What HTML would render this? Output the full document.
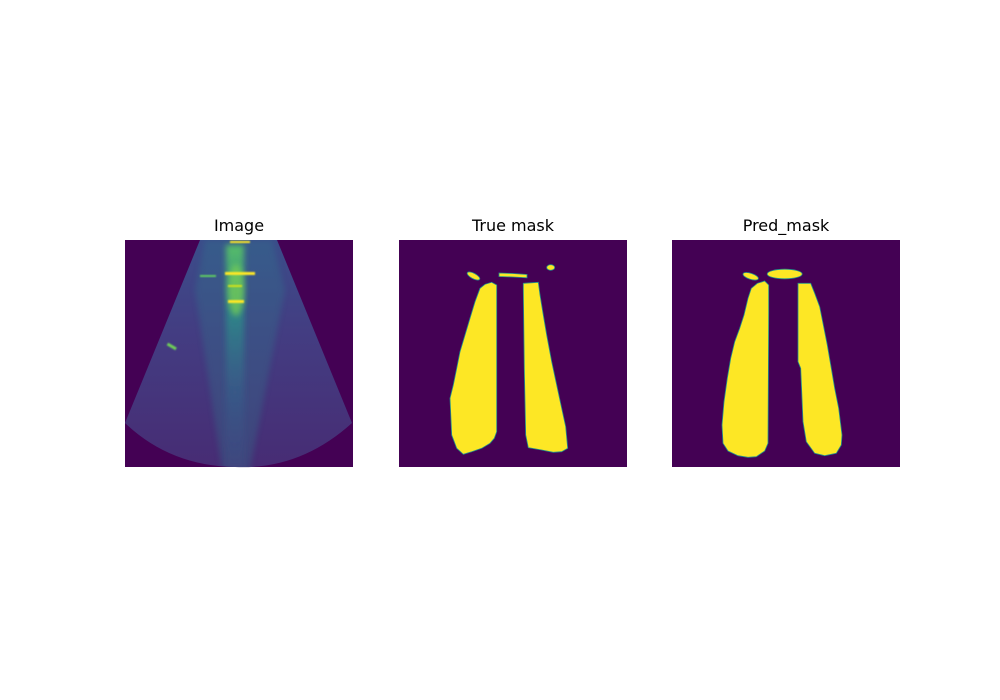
<!DOCTYPE html>
<html><head><meta charset="utf-8"><style>
html,body{margin:0;padding:0;background:#fff;width:1000px;height:700px;overflow:hidden}
svg text{font-family:"DejaVu Sans","Liberation Sans",sans-serif;font-size:16px;fill:#000}
</style></head><body>
<svg width="1000" height="700" viewBox="0 0 1000 700">
<defs>
<linearGradient id="fanG" x1="0" y1="0" x2="0" y2="1">
<stop offset="0" stop-color="#3b4d8a"/><stop offset="0.4" stop-color="#433d82"/><stop offset="1" stop-color="#472c74"/>
</linearGradient>
<linearGradient id="stripG" x1="0" y1="0" x2="0" y2="1">
<stop offset="0" stop-color="#5ac864" stop-opacity="0.9"/><stop offset="0.3" stop-color="#2a9a8a" stop-opacity="0.7"/><stop offset="0.65" stop-color="#31688e" stop-opacity="0.45"/><stop offset="1" stop-color="#3b528b" stop-opacity="0.15"/>
</linearGradient>
<filter id="bl" x="-50%" y="-50%" width="200%" height="200%"><feGaussianBlur stdDeviation="3"/></filter>
<filter id="bl2" x="-50%" y="-50%" width="200%" height="200%"><feGaussianBlur stdDeviation="0.8"/></filter>
<clipPath id="fanClip"><path d="M200,240 L277,240 L352,423 Q300,470 235,467 Q170,466 125,423 Z"/></clipPath>
</defs>

<g>
<text x="239" y="231" text-anchor="middle">Image</text>
<rect x="125" y="240" width="228" height="227" fill="#440154"/>
<path d="M200,240 L277,240 L352,423 Q300,470 235,467 Q170,466 125,423 Z" fill="url(#fanG)"/>
<g clip-path="url(#fanClip)">
<path d="M205,240 L272,240 L285,290 L250,470 L222,470 L195,290 Z" fill="#2f7d8e" opacity="0.3" filter="url(#bl)"/>
<rect x="226" y="245" width="18" height="225" fill="url(#stripG)" filter="url(#bl)"/>
<ellipse cx="236" cy="290" rx="8" ry="26" fill="#7ad151" opacity="0.7" filter="url(#bl)"/>
<rect x="225" y="272" width="30" height="3" fill="#fde725" filter="url(#bl2)"/>
<rect x="228" y="300" width="16" height="3" fill="#fde725" filter="url(#bl2)"/>
<rect x="228" y="285" width="14" height="2" fill="#d0e11c" filter="url(#bl2)"/>
<rect x="230" y="241" width="20" height="2" fill="#fde725" filter="url(#bl2)"/>
<rect x="200" y="275" width="16" height="2" fill="#5ec962" filter="url(#bl2)"/>
<rect x="167" y="345" width="10" height="3" fill="#6ece58" transform="rotate(30 172 346)" filter="url(#bl2)"/>
</g>
</g>

<g>
<text x="513" y="231" text-anchor="middle">True mask</text>
<rect x="399" y="240" width="228" height="227" fill="#440154"/>
<g fill="#fde725" stroke="#21918c" stroke-width="0.8">
<polygon points="491.7,282.3 496.7,285 496.7,431.7 494.3,438.3 490,443.3 481.7,448.3 471.7,451.7 463.3,454.3 456.7,448.3 451.7,435 450,398.3 453.3,385 456.7,368.3 460,351.7 465,335 470,318.3 475,301.7 480,288.3 485,284.3"/>
<polygon points="523.3,283.3 538.3,282.3 540,295 543.3,315 546.7,335 551.7,361.7 556.7,385 561.7,408.3 565.7,426.7 567.7,448.3 561.7,451.7 553.3,452.3 541.7,450 528.3,447.7 525.7,435 524.3,368.3 523.3,288.3"/>
<ellipse cx="473.5" cy="276" rx="7" ry="2.7" transform="rotate(28 473.5 276)"/>
<polygon points="499,273 513,273.5 527,274.5 527,277.8 513,277 499,276.5"/>
<ellipse cx="550.7" cy="267.5" rx="4" ry="2.8"/>
</g>
</g>

<g>
<text x="786" y="231" text-anchor="middle">Pred_mask</text>
<rect x="672" y="240" width="228" height="227" fill="#440154"/>
<g fill="#fde725" stroke="#21918c" stroke-width="0.8">
<polygon points="764.7,281 768.7,285 768.7,311.7 768,443.3 764.7,451 756.3,456.7 748,457.3 738,455.7 728,451 723,443.3 722,425 724,401.7 727.3,378.3 730.7,358.3 734.7,341.7 739.7,328.3 744,315 748,298.3 751.3,288.3 757.3,283.3"/>
<polygon points="798,283.3 810.7,283.3 814.7,293.3 819.7,306.7 823,323.3 827.3,345 831.3,368.3 834.7,388.3 838.7,408.3 842,435 841.3,445 836.3,453.3 824.7,455.7 814.7,453.3 806.3,441.7 803,421.7 800.7,368.3 798,361.7 798,285"/>
<ellipse cx="750.7" cy="276.3" rx="8" ry="3" transform="rotate(18 750.7 276.3)"/>
<ellipse cx="784.7" cy="274" rx="17.5" ry="4.8"/>
</g>
</g>
</svg>
</body></html>
